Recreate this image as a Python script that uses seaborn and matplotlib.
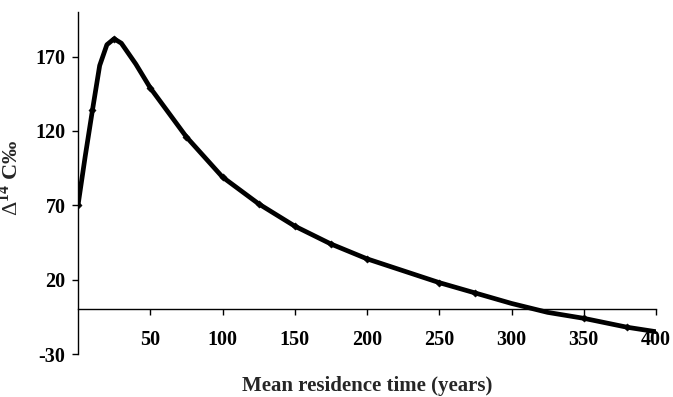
import matplotlib
matplotlib.use("Agg")
import matplotlib.pyplot as plt
import seaborn as sns
import pandas as pd

# Data
residence_time = [0, 5, 10, 15, 20, 25, 30, 35, 40, 45, 50, 75, 100, 125, 150, 175,
                  200, 225, 250, 275, 300, 325, 350, 380, 400]
delta14c = [70, 103, 134, 164, 178, 182, 179, 172, 165, 157, 149, 116, 89, 71, 56, 44,
            34, 26, 18, 11, 4, -2, -6, -12, -15]
marker_times = [0, 10, 25, 50, 75, 100, 125, 150, 175, 200, 250, 275, 350, 380]
x_ticks = [50, 100, 150, 200, 250, 300, 350, 400]
y_ticks = [-30, 20, 70, 120, 170]

sns.set_theme(style="ticks")
plt.rcParams['font.family'] = ['Liberation Serif', 'DejaVu Serif']
plt.rcParams['axes.unicode_minus'] = False
plt.rcParams['mathtext.fontset'] = 'custom'
plt.rcParams['mathtext.rm'] = 'Liberation Serif'
plt.rcParams['mathtext.bf'] = 'Liberation Serif:bold'

df = pd.DataFrame({"t": residence_time, "d": delta14c})
dm = df[df["t"].isin(marker_times)]

fig = plt.figure(figsize=(6.73, 3.97), dpi=100)
ax = fig.add_axes([78/673, 1 - 354/397, (656 - 78)/673, (354 - 12)/397])

sns.lineplot(data=df, x="t", y="d", ax=ax, color="black", linewidth=3.4, zorder=3)
sns.scatterplot(data=dm, x="t", y="d", ax=ax, color="black", marker="D", s=14,
                edgecolor="black", zorder=4)

ax.set_xlim(0, 400)
ax.set_ylim(-30, 200)
ax.set_xticks(x_ticks)
ax.set_yticks(y_ticks)
ax.spines['top'].set_visible(False)
ax.spines['right'].set_visible(False)
ax.spines['bottom'].set_position(('data', 0))
for s in ['left', 'bottom']:
    ax.spines[s].set_linewidth(1.0)
    ax.spines[s].set_color('black')

ax.tick_params(axis='both', direction='out', length=4, width=1, colors='black',
               labelsize=14.5)
ax.tick_params(axis='x', pad=11)
ax.tick_params(axis='y', pad=5)
for lab in ax.get_xticklabels() + ax.get_yticklabels():
    lab.set_fontweight('bold')

ax.set_xlabel("Mean residence time (years)", fontsize=15, fontweight='bold')
ax.xaxis.set_label_coords(0.5, -0.065)
ax.set_ylabel(r"$\Delta^{\mathbf{14}}$ C‰", fontsize=16, fontweight='bold')
ax.yaxis.set_label_coords(-0.095, 0.515)

fig.savefig("out.png", dpi=100)
